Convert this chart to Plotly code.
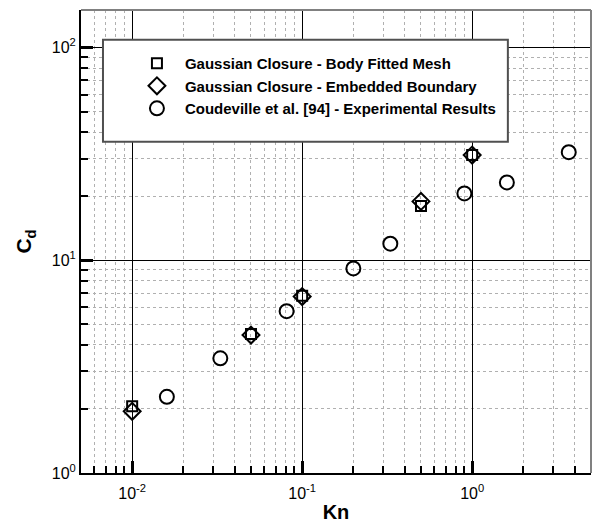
import plotly.graph_objects as go

# ---- data ----
kn_sim = [0.01, 0.05, 0.1, 0.5, 1.0]
cd_body_fitted = [2.06, 4.50, 6.80, 18.0, 31.2]
cd_embedded = [1.95, 4.45, 6.75, 18.9, 31.2]

kn_exp = [0.016, 0.033, 0.081, 0.20, 0.33, 0.90, 1.6, 3.7]
cd_exp = [2.28, 3.46, 5.76, 9.15, 11.96, 20.6, 23.2, 32.2]

x_major = [0.01, 0.1, 1]
x_major_text = ["10<sup>-2</sup>", "10<sup>-1</sup>", "10<sup>0</sup>"]
y_major = [1, 10, 100]
y_major_text = ["10<sup>0</sup>", "10<sup>1</sup>", "10<sup>2</sup>"]

x_minor = [m * d for d in (0.001, 0.01, 0.1, 1) for m in range(2, 10)]
y_minor = [m * d for d in (1, 10) for m in range(2, 10)]

FONT = "Liberation Sans, Arial, Helvetica, sans-serif"

fig = go.Figure()
fig.add_trace(go.Scatter(
    x=kn_sim, y=cd_body_fitted, mode="markers",
    name="Gaussian Closure - Body Fitted Mesh",
    marker=dict(symbol="square-open", size=10, color="black", line=dict(width=2, color="black")),
))
fig.add_trace(go.Scatter(
    x=kn_sim, y=cd_embedded, mode="markers",
    name="Gaussian Closure - Embedded Boundary",
    marker=dict(symbol="diamond-open", size=13, color="black", line=dict(width=2, color="black")),
))
fig.add_trace(go.Scatter(
    x=kn_exp, y=cd_exp, mode="markers",
    name="Coudeville et al. [94] - Experimental Results",
    marker=dict(symbol="circle-open", size=14, color="black", line=dict(width=2, color="black")),
))

axis_common = dict(
    type="log", automargin=False,
    showline=True, linecolor="black", linewidth=2, mirror=False,
    ticks="inside", ticklen=12, tickwidth=2.5, tickcolor="black",
    showgrid=True, gridcolor="black", gridwidth=1,
    zeroline=False,
    tickfont=dict(family=FONT, size=16, color="black"),
    tickmode="array",
    minor=dict(ticks="inside", ticklen=7, tickwidth=1.5, tickcolor="black",
               showgrid=True, gridcolor="#b0b0b0", griddash="dot", gridwidth=1,
               tickmode="array"),
)

fig.update_xaxes(**axis_common)
fig.update_yaxes(**axis_common)
fig.update_xaxes(range=[-2.301, 0.699], tickvals=x_major, ticktext=x_major_text,
                 minor_tickvals=x_minor, ticklabelstandoff=5,
                 title=dict(text="<b>Kn</b>", font=dict(family=FONT, size=20, color="black"), standoff=8))
fig.update_yaxes(range=[0, 2.176], tickvals=y_major, ticktext=y_major_text,
                 minor_tickvals=y_minor,
                 title=dict(text="<b>C<sub>d</sub></b>", font=dict(family=FONT, size=21, color="black"), standoff=14))

# frame (top and right edges, grey) and legend box
fig.add_shape(type="line", xref="paper", yref="paper", x0=0, x1=1, y0=1, y1=1,
              line=dict(color="#808080", width=2), layer="above")
fig.add_shape(type="line", xref="paper", yref="paper", x0=1, x1=1, y0=0, y1=1,
              line=dict(color="#808080", width=2), layer="above")
fig.add_shape(type="rect", xref="paper", yref="paper", x0=0.0431, x1=0.837, y0=0.7153, y1=0.9355,
              fillcolor="white", line=dict(color="#505050", width=2), layer="above")

fig.update_layout(
    width=594, height=523,
    margin=dict(l=81, r=3, t=10, b=50),
    paper_bgcolor="white", plot_bgcolor="white",
    font=dict(family=FONT, color="black"),
    showlegend=True,
    legend=dict(x=0.094, y=0.92, xanchor="left", yanchor="top",
                bgcolor="rgba(0,0,0,0)", borderwidth=0,
                font=dict(family=FONT, size=15, color="black", weight="bold"),
                itemwidth=46, tracegroupgap=0),
)

fig.write_html("out.html")
